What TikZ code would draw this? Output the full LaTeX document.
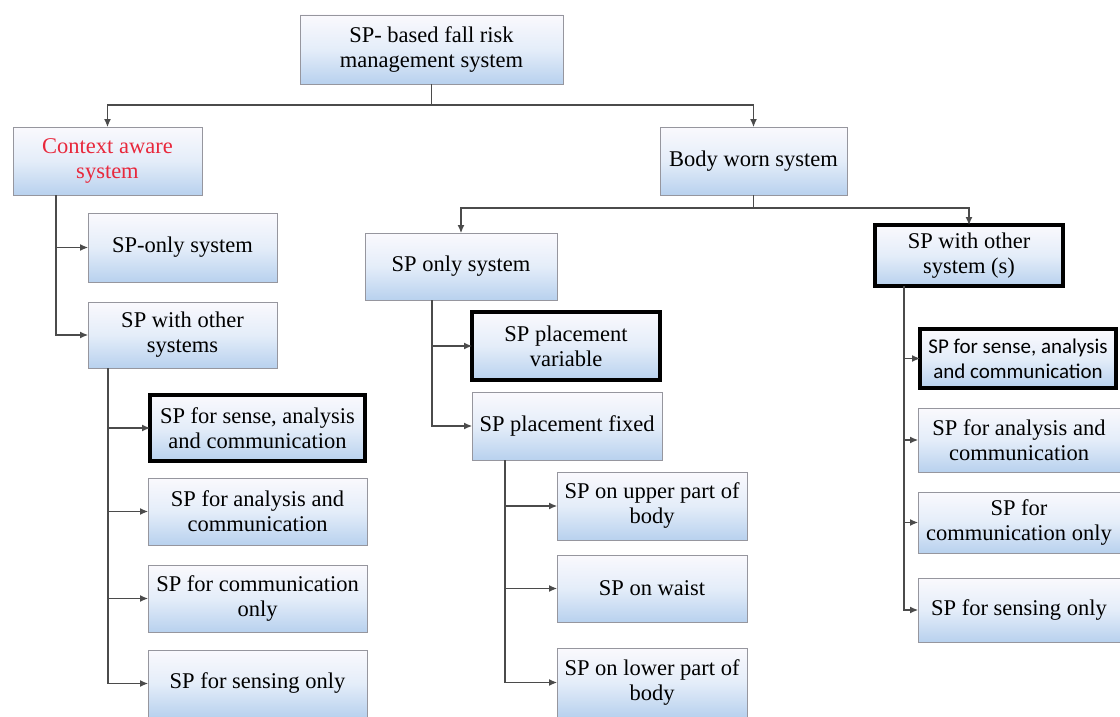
\documentclass[tikz,border=0pt]{standalone}
\usepackage{fontspec}
\setmainfont{Liberation Serif}
\newfontfamily\calfont{Carlito}
\usetikzlibrary{arrows.meta}
\definecolor{boxtop}{RGB}{250,249,253}
\definecolor{boxmid}{RGB}{228,237,249}
\definecolor{boxbot}{RGB}{184,209,238}
\definecolor{boxedge}{RGB}{150,150,158}
\definecolor{linkcol}{RGB}{75,75,75}
\definecolor{ctxred}{RGB}{232,40,60}

\begin{document}
\begin{tikzpicture}[x=1pt,y=-1pt,
  box/.style={draw=boxedge, line width=0.8pt, top color=boxtop, bottom color=boxbot,
    middle color=boxmid, align=center, inner sep=2pt, outer sep=0pt,
    font=\fontsize{22.5}{25}\selectfont},
  hl/.style={draw=black, line width=4pt},
  link/.style={draw=linkcol, line width=1.1pt},
  arr/.style={link, -{Latex[length=8pt,width=7pt]}},
]
\fill[white] (0,0) rectangle (1120,717);
\useasboundingbox (0,0) rectangle (1120,717);

% root and first level
\node[box, minimum width=263, minimum height=69] (root) at (431.5,49.5) {SP- based fall risk\\management system};
\node[box, text=ctxred, minimum width=189, minimum height=68] (ctx) at (107.5,161) {Context aware\\system};
\node[box, minimum width=187, minimum height=68] (body) at (753.5,161) {Body worn system};

% context aware branch
\node[box, minimum width=189, minimum height=69] (lonly) at (182.5,247.5) {SP-only system};
\node[box, minimum width=189, minimum height=66] (lother) at (182.5,335) {SP with other\\systems};
\node[box, hl, minimum width=215, minimum height=66] (lsense) at (257.5,428) {SP for sense, analysis\\and communication};
\node[box, minimum width=219, minimum height=67] (lanal) at (257.5,511.5) {SP for analysis and\\communication};
\node[box, minimum width=219, minimum height=67] (lcomm) at (257.5,598.5) {SP for communication\\only};
\node[box, minimum width=219, minimum height=67] (lsens) at (257.5,683.5) {SP for sensing only};

% body worn branch, SP only
\node[box, minimum width=192, minimum height=67] (monly) at (461,266.5) {SP only system};
\node[box, hl, minimum width=188, minimum height=68] (mvar) at (566,346) {SP placement\\variable};
\node[box, minimum width=190, minimum height=68] (mfix) at (567,426) {SP placement fixed};
\node[box, minimum width=190, minimum height=68] (mup) at (652,506) {SP on upper part of\\body};
\node[box, minimum width=190, minimum height=67] (mwaist) at (652,588.5) {SP on waist};
\node[box, minimum width=190, minimum height=69] (mlow) at (652,682.5) {SP on lower part of\\body};

% body worn branch, SP with other systems
\node[box, hl, minimum width=188, minimum height=61] (rother) at (969,255.5) {SP with other\\system (s)};
\node[box, hl, font=\calfont\fontsize{21}{25}\selectfont, minimum width=196, minimum height=59] (rsense) at (1018,358.5) {SP for sense, analysis\\and communication};
\node[box, minimum width=202, minimum height=64] (ranal) at (1019,440) {SP for analysis and\\communication};
\node[box, minimum width=202, minimum height=61] (rcomm) at (1019,522.5) {SP for\\communication only};
\node[box, minimum width=202, minimum height=64] (rsens) at (1019,610) {SP for sensing only};

% connectors
\coordinate (top) at (431.5,105);
\draw[link] (root.south) -- (top);
\draw[arr] (top) -| (ctx.north);
\draw[arr] (top) -| (body.north);

\coordinate (bw) at (753.5,208);
\draw[link] (body.south) -- (bw);
\draw[arr] (bw) -| (monly.north);
\draw[arr] (bw) -| (rother.north);

\coordinate (ct) at ([xshift=43pt]ctx.south west);
\draw[arr] (ct) |- (lonly.west);
\draw[arr] (ct) |- (lother.west);

\coordinate (lt) at ([xshift=20pt]lother.south west);
\foreach \n in {lsense,lanal,lcomm,lsens}
  \draw[arr] (lt) |- (\n.west);

\coordinate (mt) at ([xshift=-29pt]monly.south);
\draw[arr] (mt) |- (mvar.west);
\draw[arr] (mt) |- (mfix.west);

\coordinate (ft) at ([xshift=33pt]mfix.south west);
\foreach \n in {mup,mwaist,mlow}
  \draw[arr] (ft) |- (\n.west);

\coordinate (rt) at ([xshift=29pt]rother.south west);
\foreach \n in {rsense,ranal,rcomm,rsens}
  \draw[arr] (rt) |- (\n.west);
\end{tikzpicture}
\end{document}
